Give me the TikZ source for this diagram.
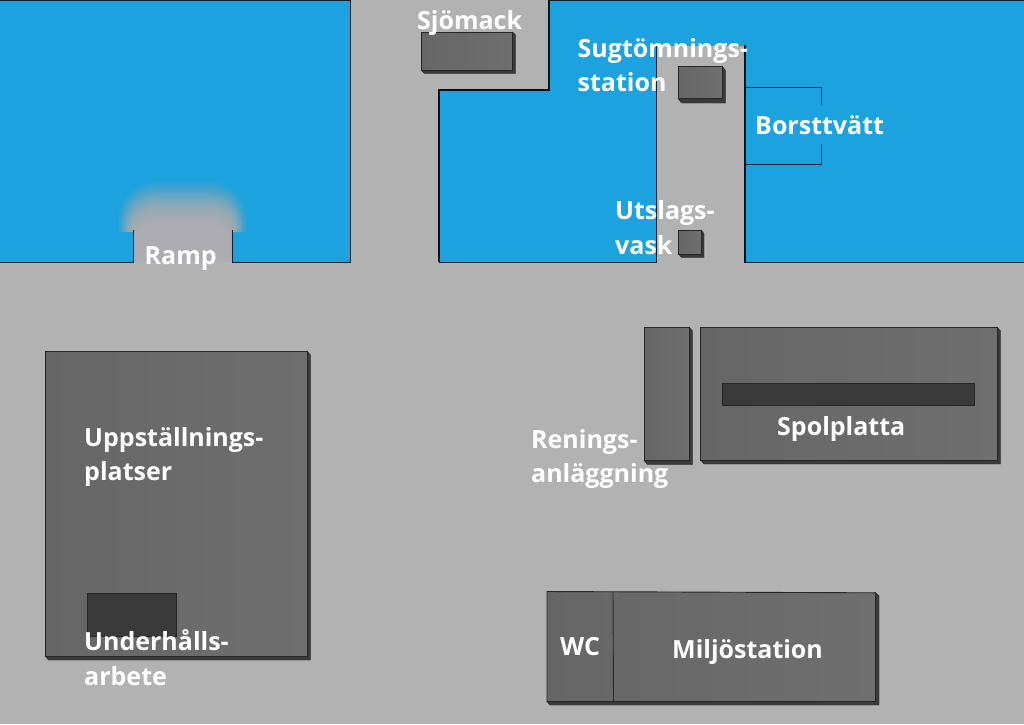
\documentclass[tikz,border=0pt]{standalone}
\usepackage{fontspec}
\setmainfont{Open Sans}
\definecolor{water}{HTML}{1CA3DF}
\definecolor{ground}{HTML}{B2B2B2}
\definecolor{boxl}{HTML}{666666}
\definecolor{boxr}{HTML}{6F6F6F}
\definecolor{darkslab}{HTML}{3A3A3A}
\definecolor{edge}{HTML}{0B2233}
\tikzset{
  lab/.style={anchor=base west,inner sep=0pt,text=white,font=\fontsize{25}{30}\selectfont\bfseries},
  waterfill/.style={fill=water},
  shore/.style={draw=edge,line width=1pt},
  thickshore/.style={draw=black!90!water,line width=2.4pt},
  topface/.style={draw=black!85,line width=0.9pt,left color=boxl,right color=boxr},
  darkface/.style={draw=black!85,line width=0.8pt,fill=darkslab},
  sideface/.style={fill=darkslab,draw=black!85,line width=0.4pt}
}
% #1 x0, #2 y0, #3 x1, #4 y1, #5 shadow dx, #6 shadow dy
\newcommand{\slab}[6]{%
  \path[sideface] (#1,#4) -- ({#1+#5},{#4+#6}) -- ({#3+#5},{#4+#6}) -- ({#3+#5},{#2+#6}) -- (#3,#2) -- cycle;
  \path[topface] (#1,#2) rectangle (#3,#4);
}
\begin{document}
\begin{tikzpicture}[x=1pt,y=-1pt]
\useasboundingbox (0,0) rectangle (1024,724);
\fill[ground] (0,0) rectangle (1024,724);
% left basin
\fill[waterfill] (0,0) rectangle (350,262);
% ramp, faded upward
\begin{scope}
\clip (100,170) -- (265,170) -- (265,232) -- (232,232) -- (232,263) -- (133,263) -- (133,232) -- (100,232) -- cycle;
\foreach \i in {0,...,39}{
  \pgfmathsetmacro{\op}{0.03+0.0034*\i}
  \fill[ground,opacity=\op,rounded corners={40-\i*0.7}] ({118+\i*0.5},{180+\i*1.2}) rectangle ({247-\i*0.5},300);
}
\end{scope}
\draw[shore] (0,0) -- (350,0) -- (350,262) -- (232,262) -- (232,230);
\draw[shore] (133,230) -- (133,262) -- (0,262);
% right basin
\fill[waterfill] (439,262) -- (439,90) -- (549,90) -- (549,0) -- (1024,0) -- (1024,262) -- (745,262) -- (745,46) -- (656,46) -- (656,262) -- cycle;
\draw[thickshore] (439,262) -- (439,90) -- (549,90) -- (549,0);
\draw[shore] (549,0.5) -- (1024,0.5);
\draw[shore] (439,262) -- (656,262) -- (656,46);
\draw[thickshore] (745,45) -- (745,263);
\draw[shore] (745,262) -- (1024,262);
% brush wash bay
\draw[shore] (745,87) -- (821,87) -- (821,105);
\draw[shore] (821,144) -- (821,164) -- (745,164);
% slabs
\slab{421.5}{32}{512.5}{70.5}{3}{3}
\slab{678}{66}{722}{98.5}{3.5}{4.5}
\slab{678.5}{230}{701}{254}{3}{3.5}
\slab{644}{327}{689}{460.5}{3.5}{4}
\slab{700.5}{327}{997}{460}{3.5}{4}
\slab{45}{351}{307}{656}{3.5}{4}
\path[sideface] (547,701.5) -- (550,705) -- (879,705) -- (879,596) -- (875.5,592.5) -- cycle;
\path[topface] (547,591.5) -- (875.5,592.8) -- (875.5,701.5) -- (547,701.5) -- cycle;
\draw[black!85,line width=0.9pt] (613,592) -- (613.5,701.5);
\path[darkface] (722.5,383) rectangle (974,405.5);
\path[darkface] (87.5,593) rectangle (176.5,636);
% labels
\node[lab] (sjomack) at (417,29) {Sjömack};
\node[lab] (sug1) at (577.5,57) {Sugtömnings-};
\node[lab] (sug2) at (577.5,91) {station};
\node[lab] (borst) at (755,134.5) {Borsttvätt};
\node[lab] (ramp) at (144.5,264.5) {Ramp};
\node[lab] (uts1) at (615,219) {Utslags-};
\node[lab] (uts2) at (615,254) {vask};
\node[lab] (upp1) at (84,446.5) {Uppställnings-};
\node[lab] (upp2) at (84,480.5) {platser};
\node[lab] (ren1) at (531,448) {Renings-};
\node[lab] (ren2) at (531,482.5) {anläggning};
\node[lab] (spol) at (777,435) {Spolplatta};
\node[lab] (und1) at (84,650) {Underhålls-};
\node[lab] (und2) at (84,685) {arbete};
\node[lab] (wc) at (560,655) {WC};
\node[lab] (milj) at (672,658) {Miljöstation};
\end{tikzpicture}
\end{document}
